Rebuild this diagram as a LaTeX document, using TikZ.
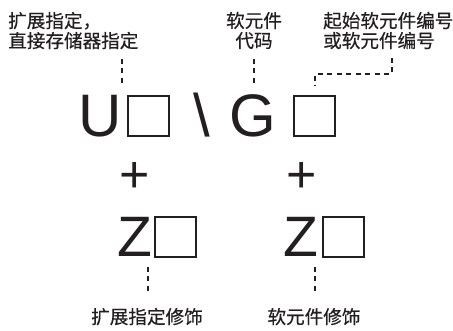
\documentclass[tikz,border=0pt]{standalone}
\usepackage{fontspec}
\setmainfont{Liberation Sans}
\newfontfamily\cjk[FakeBold=0.5]{Noto Sans CJK SC}
\definecolor{ink}{RGB}{35,31,32}
\tikzset{
  lbl/.style={font=\cjk\fontsize{18.6}{20}\selectfont, inner sep=0pt, text=ink},
  glyph/.style={font=\fontsize{60}{60}\selectfont, inner sep=0pt, text=ink, anchor=base},
  slot/.style={draw=ink, line width=2pt, minimum width=41pt, minimum height=40pt, inner sep=0pt},
  leader/.style={draw=ink, line width=2.4pt, dash pattern=on 5pt off 4.5pt}
}
\begin{document}
\begin{tikzpicture}[x=1pt,y=-1pt]
\useasboundingbox (0,0) rectangle (453,331);
% labels above
\node[lbl, anchor=north west, align=left] (lblext) at (8,11.7) {扩展指定，\\直接存储器指定};
\node[lbl, anchor=north, align=center] (lbldev) at (254,11.7) {软元件\\代码};
\node[lbl, anchor=north west, align=left] (lblnum) at (323,11.7) {起始软元件编号\\或软元件编号};
% U[] \ G[]
\node[glyph] (U) at (100,137) {U};
\node[slot] (boxU) at (148.5,116) {};
\node[glyph] (bsl) at (201.5,137) {\textbackslash};
\node[glyph] (G) at (253,137) {G};
\node[slot] (boxG) at (314.5,116.5) {};
% + Z[]
\node[glyph, font=\fontsize{52}{52}\selectfont] (plusU) at (134.5,193) {+};
\node[glyph, font=\fontsize{52}{52}\selectfont] (plusG) at (301.5,193) {+};
\node[glyph, font=\fontsize{57}{57}\selectfont] (ZU) at (134.5,256.5) {Z};
\node[slot] (boxZU) at (175.5,237) {};
\node[glyph, font=\fontsize{57}{57}\selectfont] (ZG) at (300.5,256.5) {Z};
\node[slot] (boxZG) at (343.5,237.5) {};
% labels below
\node[lbl, anchor=base] (lblzext) at (147,323.7) {扩展指定修饰};
\node[lbl, anchor=base] (lblzdev) at (314,323.7) {软元件修饰};
% leaders
\coordinate (ext1) at (122,59);
\coordinate (ext2) at (122,86);
\coordinate (dev1) at (254,59);
\coordinate (dev2) at (254,86);
\coordinate (num1) at (392,58);
\coordinate (num2) at (315,86);
\coordinate (zext1) at (148,267);
\coordinate (zext2) at (148,294);
\coordinate (zdev1) at (315,267);
\coordinate (zdev2) at (315,294);
\draw[leader] (ext1) -- (ext2);
\draw[leader] (dev1) -- (dev2);
\draw[leader] (num1) |- (315,74) -- (num2);
\draw[leader] (zext1) -- (zext2);
\draw[leader] (zdev1) -- (zdev2);
\end{tikzpicture}
\end{document}
